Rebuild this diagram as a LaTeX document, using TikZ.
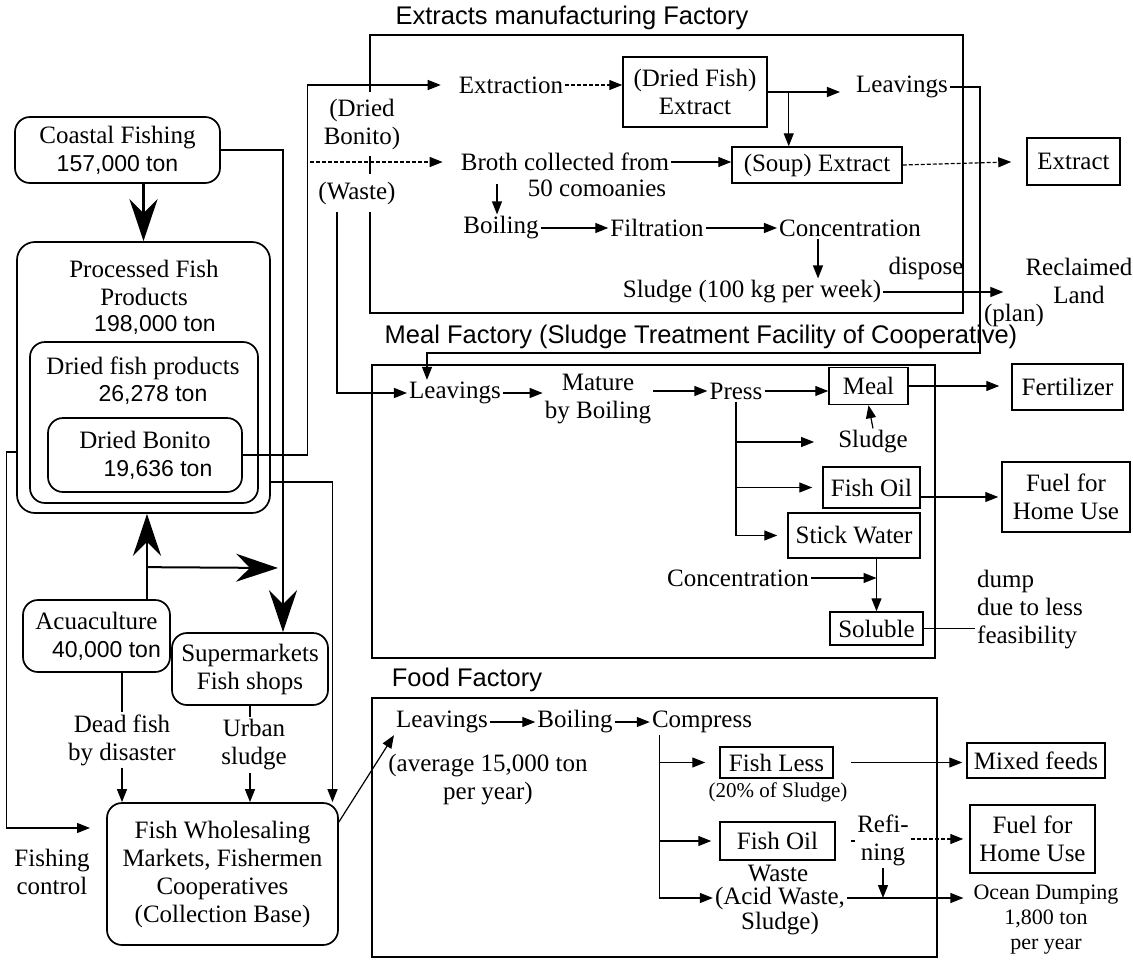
\documentclass[tikz,border=0pt]{standalone}
\usepackage{fontspec}
\setmainfont{Liberation Serif}
\newfontfamily\sansf{Liberation Sans}
\usetikzlibrary{arrows.meta,calc}
\newcommand{\numf}{\sansf\fontsize{23}{28}\selectfont}

\begin{document}
\begin{tikzpicture}[x=1pt,y=-1pt,
  every node/.style={font=\fontsize{25}{28}\selectfont, inner sep=2pt, align=center},
  sqbox/.style={draw, line width=1.5pt, inner sep=2pt},
  rbox/.style={draw, line width=1.7pt, rounded corners=15pt},
  frame/.style={draw, line width=1.6pt},
  title/.style={font=\sansf\fontsize{25.5}{28}\selectfont},
  arr/.style={line width=1.2pt, -{Triangle[length=13pt,width=10pt]}},
  ln/.style={line width=1.2pt},
  big/.style={line width=2.8pt, -{Stealth[length=42pt,width=28pt,inset=14pt]}},
  dsh/.style={dash pattern=on 4pt off 2pt},
]
\useasboundingbox (0,0) rectangle (1133,961);

% ---------- sources and markets ----------
\node[rbox, minimum width=205pt, minimum height=66pt] (coastal) at (117.5,150)
  {Coastal Fishing\\{\numf 157,000 ton}};
\node[rbox, rounded corners=18pt, minimum width=253pt, minimum height=271pt] (proc) at (143.5,377.5) {};
\node (procT) at (144,283) {Processed Fish\\Products};
\node[font=\numf] (procN) at (155,325) {198,000 ton};
\node[rbox, minimum width=228pt, minimum height=161pt] (dfp) at (144,422.5) {};
\node (dfpT) at (143,368) {Dried fish products};
\node[font=\numf] (dfpN) at (153,395) {26,278 ton};
\node[rbox, minimum width=194pt, minimum height=74pt] (bonito) at (145,455)
  {Dried Bonito\\{\numf\hspace*{26pt}19,636 ton}};
\node[rbox, minimum width=147pt, minimum height=72pt] (acua) at (96.5,636)
  {Acuaculture\\{\numf\hspace*{20pt}40,000 ton}};
\node[rbox, minimum width=156pt, minimum height=72pt] (super) at (250,669)
  {Supermarkets\\Fish shops};
\node[rbox, minimum width=231pt, minimum height=142pt] (whole) at (222.5,874)
  {Fish Wholesaling\\Markets, Fishermen\\Cooperatives\\(Collection Base)};
\node (dead) at (122,740) {Dead fish\\by disaster};
\node (urban) at (254,745) {Urban\\sludge};
\node (fishctl) at (52,872) {Fishing\\control};
\coordinate (fishin) at (90,828);

% ---------- extracts manufacturing factory ----------
\node[frame, minimum width=593pt, minimum height=278pt] (extf) at (666.5,174) {};
\node[title] (extT) at (572,18) {Extracts manufacturing Factory};
\node[fill=white, inner sep=1pt, minimum height=64pt] (dbl) at (362,124) {(Dried\\Bonito)};
\node[fill=white, inner sep=1pt, minimum height=38pt] (waste) at (357,193) {(Waste)};
\node (extraction) at (511,85) {Extraction};
\node[sqbox, minimum width=144pt, minimum height=70pt] (dfe) at (695,92) {(Dried Fish)\\Extract};
\node (leav1) at (902,87) {Leavings};
\node (broth) at (565,162) {Broth collected from};
\node (comp50) at (597,188) {50 comoanies};
\node[sqbox, minimum width=170pt, minimum height=36pt] (soup) at (817,165) {(Soup) Extract};
\node[sqbox, minimum width=93pt, minimum height=47pt] (extout) at (1073.5,161.5) {Extract};
\node (boil1) at (501,228) {Boiling};
\node (filt) at (657,228) {Filtration};
\node (conc1) at (850,228) {Concentration};
\node (sludge1) at (752,292) {Sludge (100 kg per week)};
\node (dispose) at (926,268) {dispose};
\node (reclaim) at (1079,281) {Reclaimed\\Land};

% ---------- meal factory ----------
\node[frame, minimum width=563pt, minimum height=293pt] (mealf) at (653.5,511.5) {};
\node[title] (mealT) at (701,337) {Meal Factory (Sludge Treatment Facility of Cooperative)};
\node (plan) at (1014,315) {(plan)};
\node (leav2) at (455,393) {Leavings};
\node (mature) at (598,399) {Mature\\by Boiling};
\node (press) at (736,391) {Press};
\node[sqbox, minimum width=79pt, minimum height=37pt] (mealb) at (868.5,386) {Meal};
\node[sqbox, minimum width=111pt, minimum height=46pt] (fert) at (1067.5,387) {Fertilizer};
\node (sludge2) at (873,442) {Sludge};
\node[sqbox, minimum width=97pt, minimum height=41pt] (oil1) at (871.5,487.5) {Fish Oil};
\node[sqbox, minimum width=128pt, minimum height=70pt] (fuel1) at (1066,497) {Fuel for\\Home Use};
\node[sqbox, minimum width=132pt, minimum height=45pt] (stick) at (854,535.5) {Stick Water};
\node (conc2) at (738,578) {Concentration};
\node[sqbox, minimum width=93pt, minimum height=33pt] (soluble) at (876.5,628.5) {Soluble};
\node[anchor=west, align=left] (dump) at (975,610) {dump\\due to less\\feasibility};

% ---------- food factory ----------
\node[frame, minimum width=565pt, minimum height=259pt] (foodf) at (654.5,827.5) {};
\node[title] (foodT) at (467,680) {Food Factory};
\node (leav3) at (442,722) {Leavings};
\node (boil2) at (575,722) {Boiling};
\node (compress) at (702,722) {Compress};
\node (avg) at (488,780) {(average 15,000 ton\\per year)};
\node[sqbox, minimum width=113pt, minimum height=31pt] (fless) at (776.5,762.5) {Fish Less};
\node[font=\fontsize{21}{25}\selectfont] (pct) at (778,792) {(20\% of Sludge)};
\node[sqbox, minimum width=115pt, minimum height=38pt] (oil2) at (777.5,841) {Fish Oil};
\node (wst) at (778,873) {Waste};
\node (acid) at (780,898) {(Acid Waste,};
\node (acid2) at (780,924) {Sludge)};
\node (refine) at (883,840) {Refi-\\ning};
\node[sqbox, minimum width=138pt, minimum height=35pt] (mixed) at (1036,760.5) {Mixed feeds};
\node[sqbox, minimum width=125pt, minimum height=68pt] (fuel2) at (1032.5,839) {Fuel for\\Home Use};
\node[font=\fontsize{22}{25}\selectfont] (ocean) at (1046,920) {Ocean Dumping\\1,800 ton\\per year};

% ---------- flows on the left ----------
\draw[big] (proc.north |- coastal.south) -- (proc.north);
\draw[big] (coastal.east) -| ($(super.north)+(33,0)$);
\coordinate (upfoot) at ($(acua.north)+(50.5,0)$);
\draw[big] (upfoot) -- (upfoot |- proc.south);
\coordinate (hj) at ($(upfoot)+(0,-32)$);
\coordinate (shopin) at (278,568);
\draw[big, line width=2pt] (hj) -- (shopin);
\draw[arr, shorten >=16pt] (bonito.east) -- ++(65,0) |- (extraction.west);
\coordinate (wj) at (310,162);
\draw[arr, dsh, shorten >=16pt] (wj) -- (wj -| broth.west);
\draw[arr] ($(waste.south)+(-20,0)$) |- (leav2.west);
\draw[arr] ($(proc.east)+(0,104.5)$) -| ($(whole.north)+(110,0)$);
\draw[arr] ($(proc.west)+(0,74.5)$) -- ++(-10,0) |- (fishin);
\draw[ln] ($(acua.south)+(25.5,0)$) -- (dead.north);
\draw[arr] (dead.south) -- (dead.south |- whole.north);
\draw[ln] (super.south) -- (super.south |- urban.north);
\draw[arr] (super.south |- urban.south) -- (super.south |- whole.north);
\draw[arr] ($(whole.east)+(0,-52)$) -- (leav3.south west);

% ---------- flows in the extracts factory ----------
\draw[arr, dsh] (extraction.east) -- (extraction.east -| dfe.west);
\draw[arr, shorten >=14pt] (dfe.east) -- (dfe.east -| leav1.west);
\coordinate (dj) at ($(dfe.east)+(21,0)$);
\draw[arr] (dj) -- (dj |- soup.north);
\draw[arr] (broth.east) -- (broth.east -| soup.west);
\draw[arr, dsh, shorten >=15pt] (soup.east) -- (extout.west);
\draw[arr] ($(boil1.north)+(-4,-30)$) -- ($(boil1.north)+(-4,0)$);
\draw[arr] (boil1.east) -- (filt.west);
\draw[arr] (filt.east) -- (conc1.west);
\coordinate (cj) at ($(conc1.south)+(-32,0)$);
\draw[arr] (cj) -- (cj |- sludge1.north);
\draw[arr, shorten >=20pt] (sludge1.east) -- (sludge1.east -| reclaim.west);
\draw[arr] (leav1.east) -| (980,353) -| ($(leav2.north)+(-28,0)$);

% ---------- flows in the meal factory ----------
\draw[arr] (leav2.east) -- (leav2.east -| mature.west);
\draw[arr] (mature.east |- press.west) -- (press.west);
\draw[arr] (press.east) -- (press.east -| mealb.west);
\draw[arr, shorten >=12pt] (mealb.east) -- (mealb.east -| fert.west);
\draw[arr] (sludge2.north) -- (mealb.south);
\draw[ln] (press.south) -- (press.south |- stick.west);
\draw[arr, shorten >=10pt] (press.south |- stick.west) -- (stick.west);
\draw[arr, shorten >=22pt] (press.south |- sludge2.west) -- (sludge2.west);
\draw[arr, shorten >=10pt] (press.south |- oil1.west) -- (oil1.west);
\draw[arr, shorten >=3pt] (oil1.east |- fuel1.west) -- (fuel1.west);
\draw[arr] (stick.south -| soluble.north) -- (soluble.north);
\draw[arr] (conc2.east) -- (conc2.east -| soluble.north);
\draw[ln] (soluble.east) -- (soluble.east -| dump.west);

% ---------- flows in the food factory ----------
\draw[arr] (leav3.east) -- (boil2.west);
\draw[arr] (boil2.east) -- (compress.west);
\coordinate (cv) at ($(compress.south west)+(10,0)$);
\draw[arr] (cv) |- (acid.west);
\draw[arr, shorten >=14pt] (cv |- fless.west) -- (fless.west);
\draw[arr, shorten >=8pt] (cv |- oil2.west) -- (oil2.west);
\draw[arr, shorten <=17pt, shorten >=4pt] (fless.east) -- (fless.east -| mixed.west);
\draw[ln, shorten <=15pt] (oil2.east) -- (oil2.east -| refine.west);
\draw[arr, dsh, shorten >=6pt] (refine.east |- fuel2.west) -- (fuel2.west);
\draw[arr] (refine.south) -- (refine.south |- acid.east);
\draw[arr, shorten >=8pt] (acid.east) -- (acid.east -| ocean.west);
\end{tikzpicture}
\end{document}
